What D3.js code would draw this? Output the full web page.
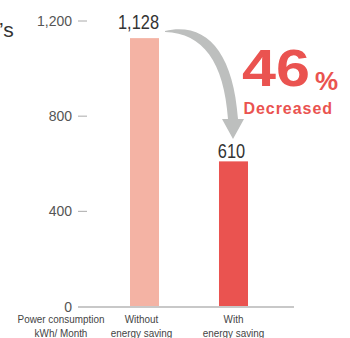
<!DOCTYPE html>
<html><head><meta charset="utf-8">
<script src="https://cdn.jsdelivr.net/npm/d3@7"></script>
<style>
html,body{margin:0;padding:0;background:#fff;}
svg{display:block;font-family:"Liberation Sans",Arial,sans-serif;}
</style></head>
<body>
<svg id="c" width="350" height="338"></svg>
<script>
const categories = ["Without", "With"];
const categoryLines = [["Without", "energy saving"], ["With", "energy saving"]];
const values = [1128, 610];
const valueLabels = ["1,128", "610"];
const tickValues = [0, 400, 800, 1200];
const axisTitle = ["Power consumption", "kWh/ Month"];
const headline = "46";
const headlineUnit = "%";
const headlineSub = "Decreased";
const titleFragment = "’s";
const barColors = ["#F4B3A4", "#EA5350"];

const svg = d3.select("#c");
const y = d3.scaleLinear().domain([0, 1200]).range([306.5, 21]);
const x = d3.scaleBand().domain(categories).range([85.5, 292.5]).paddingInner(0.674).paddingOuter(0.5);

// title fragment
svg.append("text").attr("x", -1).attr("y", 37).attr("font-size", 21).attr("fill", "#333").text(titleFragment);

// y axis ticks
const ax = svg.append("g");
tickValues.forEach(v => {
  ax.append("text").attr("x", 72).attr("y", y(v)).attr("dy", "0.36em")
    .attr("text-anchor", "end").attr("font-size", 14).attr("fill", "#555")
    .text(d3.format(",")(v));
  if (v > 0) ax.append("line").attr("x1", 78).attr("x2", 87).attr("y1", y(v)).attr("y2", y(v))
    .attr("stroke", "#aaa").attr("stroke-width", 1);
});

// bars
svg.selectAll("rect.bar").data(values).enter().append("rect")
  .attr("x", (d, i) => x(categories[i])).attr("width", x.bandwidth())
  .attr("y", d => y(d)).attr("height", d => y(0) - y(d))
  .attr("fill", (d, i) => barColors[i]);

// baseline
svg.append("line").attr("x1", 78).attr("x2", 294).attr("y1", y(0) + 0.5).attr("y2", y(0) + 0.5)
  .attr("stroke", "#c8c8c8").attr("stroke-width", 2);

// value labels
const gaps = [9, 3.5];
values.forEach((v, i) => {
  const cx = x(categories[i]) + x.bandwidth() / 2 + (i === 0 ? -6 : -2);
  svg.append("text").attr("x", 0).attr("y", 0)
    .attr("transform", `translate(${cx},${y(v) - gaps[i]}) scale(0.78,1)`)
    .attr("text-anchor", "middle").attr("font-size", 21).attr("fill", "#333").text(valueLabels[i]);
});

// category labels
categoryLines.forEach((lines, i) => {
  const cx = x(categories[i]) + x.bandwidth() / 2 + (i === 0 ? -3 : 0);
  lines.forEach((t, j) => {
    svg.append("text").attr("x", 0).attr("y", 0)
      .attr("transform", `translate(${cx},${323 + j * 14}) scale(0.9,1)`)
      .attr("text-anchor", "middle").attr("font-size", 11).attr("fill", "#444").text(t);
  });
});
axisTitle.forEach((t, j) => {
  svg.append("text").attr("x", 0).attr("y", 0)
    .attr("transform", `translate(61,${323 + j * 14}) scale(0.9,1)`)
    .attr("text-anchor", "middle").attr("font-size", 11).attr("fill", "#444").text(t);
});

// arrow
const ax0 = x(categories[0]) + x.bandwidth() + 6;
svg.append("path")
  .attr("d", `M${ax0},31 C205,22 233,50 238,119 L244,119 L233,139 L222,119 L228,119 C224,62 203,33 ${ax0},32 Z`)
  .attr("fill", "#BDBFBE");

// headline
svg.append("text").attr("x", 242).attr("y", 86).attr("font-size", 51).attr("font-weight", "bold")
  .attr("fill", "#EA5350").attr("textLength", 68).attr("lengthAdjust", "spacingAndGlyphs").text(headline);
svg.append("text").attr("x", 315).attr("y", 90).attr("font-size", 26).attr("font-weight", "bold")
  .attr("fill", "#EA5350").text(headlineUnit);
svg.append("text").attr("x", 243.5).attr("y", 114).attr("font-size", 16).attr("font-weight", "bold")
  .attr("fill", "#EA5350").attr("textLength", 88.5).attr("lengthAdjust", "spacing").text(headlineSub);
</script>
</body></html>
